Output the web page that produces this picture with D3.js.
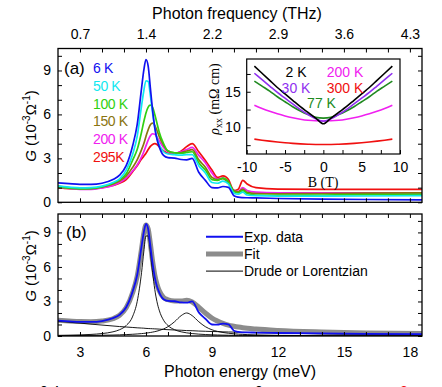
<!DOCTYPE html>
<html>
<head>
<meta charset="utf-8">
<script src="https://cdnjs.cloudflare.com/ajax/libs/d3/7.8.5/d3.min.js"></script>
<style>
  body { margin: 0; background: #fff; }
  svg { font-family: 'Liberation Sans', Arial, sans-serif; }
  .tick text { font-size: 14px; fill: #000; }
  .tick line { stroke: #000; stroke-width: 1; }
</style>
</head>
<body>
<script>
// photon energy grid (meV) shared by all spectra
var ENERGY = [2, 2.5, 3, 3.5, 4, 4.5, 4.8, 5.1, 5.4, 5.6, 5.8, 5.9, 6.0, 6.1, 6.2, 6.3, 6.4, 6.5, 6.6, 6.8,
  7.0, 7.3, 7.6, 7.85, 8.1, 8.4, 8.7, 9.0, 9.25, 9.5, 9.75, 10.0, 10.2, 10.4, 10.6, 11, 12, 14, 16, 18.55];

// panel (a): G at each temperature
var TEMPS = ['6 K', '50 K', '100 K', '150 K', '200 K', '295K'];
var G_6K = [1.33, 1.27, 1.22, 1.22, 1.3, 1.55, 1.85, 2.5, 3.9, 5.3, 7.8, 9.0, 9.75, 9.3, 7.8, 6.3, 5.1, 4.3, 3.8, 3.2,
  3.05, 3.02, 2.92, 2.9, 3.0, 2.05, 1.5, 1.0, 0.98, 1.08, 1.02, 0.45, 0.35, 0.32, 0.31, 0.3, 0.26, 0.22, 0.19, 0.17];
var G_50K = [1.1, 1.03, 0.98, 1.0, 1.1, 1.35, 1.6, 2.2, 3.3, 4.5, 6.6, 7.6, 8.3, 8.25, 7.3, 6.1, 5.1, 4.4, 3.95, 3.45,
  3.3, 3.25, 3.22, 3.25, 3.25, 2.5, 2.0, 1.35, 1.3, 1.45, 1.25, 0.62, 0.55, 0.7, 0.5, 0.45, 0.42, 0.42, 0.43, 0.45];
var G_100K = [1.03, 0.97, 0.92, 0.93, 1.05, 1.3, 1.55, 1.95, 2.9, 3.6, 4.8, 5.5, 6.1, 6.5, 6.63, 6.5, 6.0, 5.4, 4.8, 4.0,
  3.5, 3.38, 3.35, 3.4, 3.45, 2.7, 2.2, 1.55, 1.5, 1.65, 1.4, 0.72, 0.65, 0.8, 0.6, 0.5, 0.48, 0.5, 0.53, 0.55];
var G_150K = [1.1, 1.0, 0.93, 0.95, 1.05, 1.25, 1.45, 1.8, 2.4, 2.9, 3.6, 4.0, 4.5, 4.95, 5.3, 5.4, 5.25, 4.9, 4.5, 3.9,
  3.5, 3.38, 3.4, 3.5, 3.6, 2.9, 2.4, 1.7, 1.55, 1.62, 1.3, 0.8, 0.72, 0.9, 0.68, 0.6, 0.58, 0.6, 0.62, 0.65];
var G_200K = [1.05, 0.95, 0.88, 0.88, 0.98, 1.15, 1.35, 1.65, 2.15, 2.55, 3.1, 3.45, 3.85, 4.25, 4.55, 4.68, 4.65, 4.45, 4.2, 3.75,
  3.45, 3.35, 3.45, 3.6, 3.75, 3.2, 2.7, 2.0, 1.6, 1.65, 1.35, 0.8, 0.75, 1.0, 0.8, 0.7, 0.65, 0.64, 0.64, 0.65];
var G_295K = [1.0, 0.93, 0.9, 0.92, 1.0, 1.15, 1.3, 1.55, 2.1, 2.5, 2.95, 3.15, 3.35, 3.6, 3.82, 3.95, 4.0, 3.95, 3.8, 3.5,
  3.35, 3.3, 3.5, 3.8, 4.0, 3.45, 2.85, 2.2, 1.7, 1.8, 1.55, 0.8, 0.9, 1.5, 1.25, 1.0, 0.9, 0.88, 0.88, 0.88];

// panel (b): fit and its components
var G_FIT = [1.36, 1.3, 1.25, 1.24, 1.3, 1.5, 1.8, 2.45, 3.8, 5.2, 7.6, 8.9, 9.65, 9.3, 8.0, 6.5, 5.3, 4.5, 3.95, 3.35,
  3.15, 3.05, 3.05, 3.1, 2.95, 2.5, 2.0, 1.55, 1.3, 1.1, 0.95, 0.85, 0.78, 0.72, 0.67, 0.6, 0.48, 0.35, 0.27, 0.22];
var G_DRUDE = [1.28, 1.2, 1.12, 1.03, 0.95, 0.87, 0.82, 0.78, 0.74, 0.71, 0.69, 0.68, 0.66, 0.65, 0.64, 0.63, 0.62, 0.61, 0.6, 0.57,
  0.55, 0.52, 0.5, 0.47, 0.46, 0.43, 0.41, 0.39, 0.38, 0.36, 0.35, 0.34, 0.33, 0.32, 0.31, 0.29, 0.25, 0.19, 0.15, 0.12];
var G_LOR1 = [0.055, 0.072, 0.096, 0.138, 0.212, 0.363, 0.546, 0.907, 1.73, 2.99, 5.53, 7.3, 8.69, 8.69, 7.3, 5.53, 4.05, 2.98, 2.25, 1.37,
  0.907, 0.546, 0.363, 0.273, 0.212, 0.162, 0.128, 0.103, 0.088, 0.076, 0.066, 0.058, 0.053, 0.048, 0.044, 0.037, 0.026, 0.014, 0.009, 0.006];
var G_LOR2 = [0.028, 0.034, 0.041, 0.05, 0.064, 0.084, 0.1, 0.122, 0.151, 0.177, 0.209, 0.228, 0.25, 0.276, 0.305, 0.339, 0.378, 0.424, 0.477, 0.615,
  0.81, 1.24, 1.77, 2.0, 1.77, 1.24, 0.81, 0.54, 0.4, 0.305, 0.239, 0.192, 0.163, 0.14, 0.122, 0.094, 0.055, 0.025, 0.015, 0.009];
var LEGEND_B = ['Exp. data', 'Fit', 'Drude or Lorentzian'];

// axis labels
var Y_LABELS = [0, 3, 6, 9];
var E_LABELS = [3, 6, 9, 12, 15, 18];
var THZ_LABELS = ['0.7', '1.4', '2.2', '2.9', '3.6', '4.3'];

// inset: resistivity vs field
var FIELD = [-9, -8, -7, -6, -5, -4, -3, -2, -1, 0, 1, 2, 3, 4, 5, 6, 7, 8, 9];
var INSET_TEMPS = ['2 K', '30 K', '77 K', '200 K', '300 K'];
var RHO_2K = [18.6, 17.6, 16.6, 15.6, 14.7, 13.8, 12.9, 12.1, 11.3, 10.5, 11.3, 12.1, 12.9, 13.8, 14.7, 15.6, 16.6, 17.6, 18.6];
var RHO_30K = [17.6, 16.7, 15.8, 14.9, 14.1, 13.3, 12.5, 11.8, 11.2, 10.85, 11.2, 11.8, 12.5, 13.3, 14.1, 14.9, 15.8, 16.7, 17.6];
var RHO_77K = [16.5, 15.8, 15.1, 14.3, 13.6, 12.9, 12.3, 11.8, 11.4, 11.3, 11.4, 11.8, 12.3, 12.9, 13.6, 14.3, 15.1, 15.8, 16.5];
var RHO_200K = [13.1, 12.65, 12.25, 11.9, 11.6, 11.35, 11.15, 11.0, 10.92, 10.9, 10.92, 11.0, 11.15, 11.35, 11.6, 11.9, 12.25, 12.65, 13.1];
var RHO_300K = [8.35, 8.2, 8.07, 7.95, 7.84, 7.75, 7.68, 7.63, 7.6, 7.6, 7.6, 7.63, 7.68, 7.75, 7.84, 7.95, 8.07, 8.2, 8.35];

var width = 442, height = 387;
var left = 58, right = 422;
var aTop = 48.5, aBottom = 202.3;
var bTop = 214, bBottom = 336;

var svg = d3.select('body').append('svg')
  .attr('width', width)
  .attr('height', height);

var x = d3.scaleLinear().domain([2, 18.55]).range([left, right]);
var yA = d3.scaleLinear().domain([0, 10.5]).range([aBottom, aTop]);
var yB = d3.scaleLinear().domain([0, 10.6]).range([bBottom, bTop]);

function zip(xs, ys) {
  return xs.map(function(d, i) { return [d, ys[i]]; });
}

// clip paths for the two panels
var defs = svg.append('defs');
defs.append('clipPath').attr('id', 'clipA').append('rect')
  .attr('x', left).attr('y', aTop).attr('width', right - left).attr('height', aBottom - aTop);
defs.append('clipPath').attr('id', 'clipB').append('rect')
  .attr('x', left).attr('y', bTop).attr('width', right - left).attr('height', bBottom - bTop);

// draw inward ticks on all four sides of a panel
function drawFrame(y, top, bottom, showTop, showBottom) {
  var yTicks = d3.range(0, 11);
  var xTicks = d3.range(3, 19);
  svg.append('g')
    .attr('transform', 'translate(' + left + ',0)')
    .call(d3.axisLeft(y).tickValues(yTicks).tickSize(-4).tickPadding(7)
      .tickFormat(function(d) { return Y_LABELS.indexOf(d) >= 0 ? d : ''; }))
    .call(function(g) { g.select('.domain').remove(); });
  svg.append('g')
    .attr('transform', 'translate(' + right + ',0)')
    .call(d3.axisRight(y).tickValues(yTicks).tickSize(-4).tickFormat(''))
    .call(function(g) { g.select('.domain').remove(); });

  var topAxis = d3.axisTop(x).tickValues(xTicks).tickSize(-4).tickPadding(10)
    .tickFormat(function(d) {
      var i = E_LABELS.indexOf(d);
      return (showTop && i >= 0) ? THZ_LABELS[i] : '';
    });
  svg.append('g')
    .attr('transform', 'translate(0,' + top + ')')
    .call(topAxis)
    .call(function(g) { g.select('.domain').remove(); });

  var bottomAxis = d3.axisBottom(x).tickValues(xTicks).tickSize(-4).tickPadding(11)
    .tickFormat(function(d) {
      return (showBottom && E_LABELS.indexOf(d) >= 0) ? d : '';
    });
  svg.append('g')
    .attr('transform', 'translate(0,' + bottom + ')')
    .call(bottomAxis)
    .call(function(g) { g.select('.domain').remove(); });

  svg.append('rect')
    .attr('x', left).attr('y', top)
    .attr('width', right - left).attr('height', bottom - top)
    .attr('fill', 'none').attr('stroke', '#000').attr('stroke-width', 1.3);
}

// ---------- panel (a) ----------
var seriesA = [G_6K, G_50K, G_100K, G_150K, G_200K, G_295K];
var colorsA = ['#1010f0', '#10e8f0', '#30d010', '#8a7410', '#f020f0', '#f01010'];

var lineA = d3.line()
  .x(function(d) { return x(d[0]); })
  .y(function(d) { return yA(d[1]); })
  .curve(d3.curveMonotoneX);

var gA = svg.append('g').attr('clip-path', 'url(#clipA)');
// draw high temperature first so the 6 K curve sits on top
for (var i = seriesA.length - 1; i >= 0; i--) {
  gA.append('path')
    .attr('d', lineA(zip(ENERGY, seriesA[i])))
    .attr('fill', 'none')
    .attr('stroke', colorsA[i])
    .attr('stroke-width', 1.7);
}

drawFrame(yA, aTop, aBottom, true, false);

svg.append('text')
  .attr('x', 64).attr('y', 74)
  .style('font-size', '17px')
  .text('(a)');

TEMPS.forEach(function(t, i) {
  svg.append('text')
    .attr('x', 93)
    .attr('y', 73 + i * 17.8)
    .attr('fill', colorsA[i])
    .style('font-size', '14px')
    .style('letter-spacing', '-0.4px')
    .text(t);
});

// top axis title
svg.append('text')
  .attr('x', 237).attr('y', 19)
  .attr('text-anchor', 'middle')
  .style('font-size', '16px')
  .text('Photon frequency (THz)');

// ---------- inset ----------
var inL = 246.7, inR = 400, inT = 59, inB = 154;
var bx = d3.scaleLinear().domain([-10, 10]).range([inL, inR]);
var ry = d3.scaleLinear().domain([6.26, 19.6]).range([inB, inT]);

svg.append('rect')
  .attr('x', inL).attr('y', inT)
  .attr('width', inR - inL).attr('height', inB - inT)
  .attr('fill', '#fff');

var seriesIn = [RHO_2K, RHO_30K, RHO_77K, RHO_200K, RHO_300K];
var colorsIn = ['#000000', '#9030f0', '#208a20', '#f020f0', '#f01010'];
var lineIn = d3.line()
  .x(function(d) { return bx(d[0]); })
  .y(function(d) { return ry(d[1]); })
  .curve(d3.curveMonotoneX);

[4, 3, 2, 1, 0].forEach(function(i) {
  svg.append('path')
    .attr('d', lineIn(zip(FIELD, seriesIn[i])))
    .attr('fill', 'none')
    .attr('stroke', colorsIn[i])
    .attr('stroke-width', 1.6);
});

svg.append('g')
  .attr('transform', 'translate(0,' + inB + ')')
  .call(d3.axisBottom(bx).tickValues(d3.range(-10, 10.1, 2.5)).tickSize(-4).tickPadding(8)
    .tickFormat(function(d) { return d % 5 === 0 ? String(d) : ''; }))
  .call(function(g) { g.select('.domain').remove(); });
svg.append('g')
  .attr('transform', 'translate(' + inL + ',0)')
  .call(d3.axisLeft(ry).tickValues([7.5, 10, 12.5, 15, 17.5]).tickSize(-4).tickPadding(6)
    .tickFormat(function(d) { return d % 5 === 0 ? d : ''; }))
  .call(function(g) { g.select('.domain').remove(); });

svg.append('rect')
  .attr('x', inL).attr('y', inT)
  .attr('width', inR - inL).attr('height', inB - inT)
  .attr('fill', 'none').attr('stroke', '#000').attr('stroke-width', 1.2);

// inset legend
var inLabelPos = [[296, 76.5], [296, 92.5], [321.5, 107.5], [345, 76.5], [345, 92.5]];
INSET_TEMPS.forEach(function(t, i) {
  svg.append('text')
    .attr('x', inLabelPos[i][0]).attr('y', inLabelPos[i][1])
    .attr('text-anchor', 'middle')
    .attr('fill', colorsIn[i])
    .style('font-size', '14px')
    .text(t);
});

svg.append('text')
  .attr('x', 323).attr('y', 187)
  .attr('text-anchor', 'middle')
  .style('font-family', "'Liberation Serif', 'Times New Roman', serif")
  .style('font-size', '14px')
  .text('B (T)');

var rhoLabel = svg.append('text')
  .attr('transform', 'translate(219,99) rotate(-90)')
  .attr('text-anchor', 'middle')
  .style('font-family', "'Liberation Serif', 'Times New Roman', serif")
  .style('font-size', '14px');
rhoLabel.append('tspan').style('font-style', 'italic').text('\u03C1');
rhoLabel.append('tspan').attr('dy', 3).style('font-size', '10px').text('xx');
rhoLabel.append('tspan').attr('dy', -3).text(' (m\u03A9 cm)');

// ---------- panel (b) ----------
var lineB = d3.line()
  .x(function(d) { return x(d[0]); })
  .y(function(d) { return yB(d[1]); })
  .curve(d3.curveMonotoneX);

var gB = svg.append('g').attr('clip-path', 'url(#clipB)');
gB.append('path')
  .attr('d', lineB(zip(ENERGY, G_FIT)))
  .attr('fill', 'none').attr('stroke', '#8c8c8c').attr('stroke-width', 5);
[G_DRUDE, G_LOR1, G_LOR2].forEach(function(s) {
  gB.append('path')
    .attr('d', lineB(zip(ENERGY, s)))
    .attr('fill', 'none').attr('stroke', '#000').attr('stroke-width', 0.9);
});
gB.append('path')
  .attr('d', lineB(zip(ENERGY, G_6K)))
  .attr('fill', 'none').attr('stroke', '#1010f0').attr('stroke-width', 1.8);

drawFrame(yB, bTop, bBottom, false, true);

svg.append('text')
  .attr('x', 66).attr('y', 238)
  .style('font-size', '17px')
  .text('(b)');

// legend for panel (b)
var legendStyles = [
  { color: '#1010f0', w: 2 },
  { color: '#8c8c8c', w: 5 },
  { color: '#000', w: 1 }
];
LEGEND_B.forEach(function(t, i) {
  var ly = 236.7 + i * 17.2;
  svg.append('line')
    .attr('x1', 206).attr('x2', 243)
    .attr('y1', ly).attr('y2', ly)
    .attr('stroke', legendStyles[i].color)
    .attr('stroke-width', legendStyles[i].w);
  svg.append('text')
    .attr('x', 244).attr('y', ly + 5)
    .style('font-size', '14px')
    .text(t);
});

// bottom axis title
svg.append('text')
  .attr('x', 240).attr('y', 377)
  .attr('text-anchor', 'middle')
  .style('font-size', '16px')
  .text('Photon energy (meV)');

// y axis titles
function yTitle(cy) {
  var t = svg.append('text')
    .attr('transform', 'translate(36,' + cy + ') rotate(-90)')
    .attr('text-anchor', 'middle')
    .style('font-size', '15px');
  t.append('tspan').style('font-style', 'italic').text('G');
  t.append('tspan').text(' (10');
  t.append('tspan').attr('dy', -6).style('font-size', '10px').text('-3');
  t.append('tspan').attr('dy', 6).text('\u03A9');
  t.append('tspan').attr('dy', -6).style('font-size', '10px').text('-1');
  t.append('tspan').attr('dy', 6).text(')');
}
yTitle(126);
yTitle(266);

// cut-off labels of the next figure at the bottom edge
[['0.4', 40, '#000'], ['0', 255, '#000'], ['2', 400, '#f01010']].forEach(function(d) {
  svg.append('text')
    .attr('x', d[1]).attr('y', 396)
    .attr('fill', d[2])
    .style('font-size', '14px')
    .text(d[0]);
});
</script>
</body>
</html>
